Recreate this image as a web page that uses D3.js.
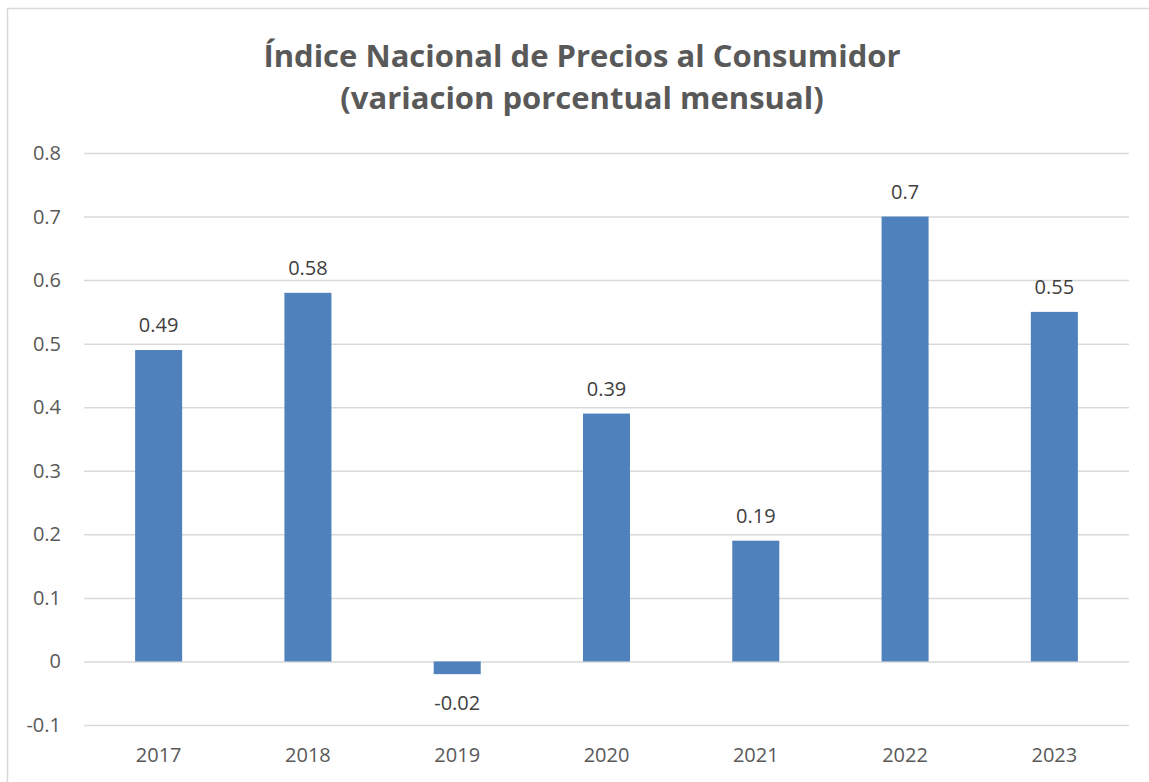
<!DOCTYPE html>
<html>
<head>
<meta charset="utf-8">
<script src="https://cdn.jsdelivr.net/npm/d3@7"></script>
<style>
    body { margin: 0; background: #fff; }
    svg { display: block; font-family: "Open Sans", sans-serif; }
    .grid line { stroke: #d9d9d9; stroke-width: 1.5; }
    .grid .domain { display: none; }
    .tick-label { fill: #595959; font-size: 20px; }
    .data-label { fill: #404040; font-size: 20px; }
    .title { fill: #595959; font-size: 31px; font-weight: bold; }
</style>
</head>
<body>
<div id="chart"></div>
<script>
"use strict"

// chart data
const years = ["2017", "2018", "2019", "2020", "2021", "2022", "2023"];
const values = [0.49, 0.58, -0.02, 0.39, 0.19, 0.7, 0.55];
const yTicks = [-0.1, 0, 0.1, 0.2, 0.3, 0.4, 0.5, 0.6, 0.7, 0.8];
const yTickLabels = ["-0.1", "0", "0.1", "0.2", "0.3", "0.4", "0.5", "0.6", "0.7", "0.8"];
const titleLines = ["Índice Nacional de Precios al Consumidor", "(variacion porcentual mensual)"];

const figWidth = 1149;
const figHeight = 782;
const plot = {left: 84, right: 1129, top: 153, bottom: 725};

let svg = d3.select("#chart").append("svg")
    .attr("width", figWidth)
    .attr("height", figHeight);

// chart border (runs past the image on right and bottom)
svg.append("rect")
    .attr("x", 7.5)
    .attr("y", 8.5)
    .attr("width", 1160)
    .attr("height", 800)
    .attr("fill", "#fff")
    .attr("stroke", "#d9d9d9")
    .attr("stroke-width", 1.5);

// title
svg.append("text")
    .attr("class", "title")
    .attr("text-anchor", "middle")
    .selectAll("tspan")
    .data(titleLines)
    .enter().append("tspan")
        .attr("x", 582)
        .attr("y", (d, i) => 67 + i * 42)
        .text(d => d);

let yScale = d3.scaleLinear()
    .domain([-0.1, 0.8])
    .range([plot.bottom, plot.top]);

let xScale = d3.scaleBand()
    .domain(years)
    .range([plot.left, plot.right])
    .paddingInner(0.685)
    .paddingOuter(0.3425);

// gridlines
svg.append("g")
    .attr("class", "grid")
    .attr("transform", `translate(${plot.left}, 0)`)
    .call(d3.axisLeft(yScale)
        .tickValues(yTicks)
        .tickSize(-(plot.right - plot.left))
        .tickFormat(""));

// y labels
svg.append("g").selectAll("text")
    .data(yTicks)
    .enter().append("text")
        .attr("class", "tick-label")
        .attr("x", 61)
        .attr("y", d => yScale(d))
        .attr("dy", "0.35em")
        .attr("text-anchor", "end")
        .text((d, i) => yTickLabels[i]);

// x labels
svg.append("g").selectAll("text")
    .data(years)
    .enter().append("text")
        .attr("class", "tick-label")
        .attr("x", d => xScale(d) + xScale.bandwidth() / 2)
        .attr("y", 755)
        .attr("dy", "0.35em")
        .attr("text-anchor", "middle")
        .text(d => d);

// bars
svg.append("g").selectAll("rect")
    .data(values)
    .enter().append("rect")
        .attr("x", (d, i) => xScale(years[i]))
        .attr("y", d => yScale(Math.max(0, d)))
        .attr("width", xScale.bandwidth())
        .attr("height", d => Math.abs(yScale(d) - yScale(0)))
        .style("fill", "#4f81bd");

// data labels
svg.append("g").selectAll("text")
    .data(values)
    .enter().append("text")
        .attr("class", "data-label")
        .attr("x", (d, i) => xScale(years[i]) + xScale.bandwidth() / 2)
        .attr("y", d => d >= 0 ? yScale(d) - 18 : yScale(d) + 36)
        .attr("text-anchor", "middle")
        .text(d => String(d));
</script>
</body>
</html>
